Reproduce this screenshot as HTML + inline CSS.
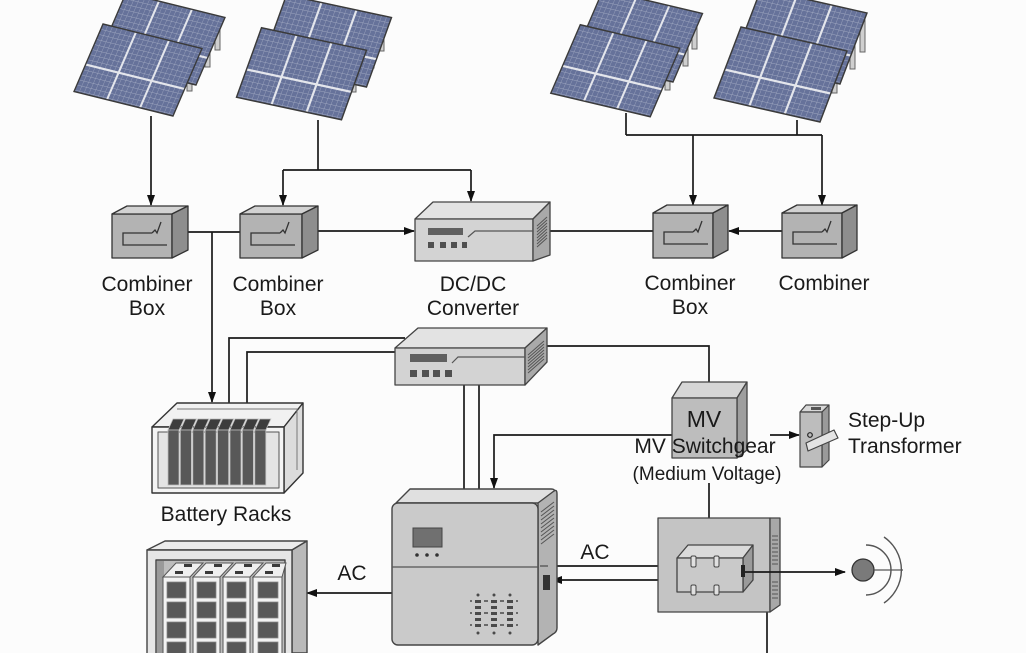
<!DOCTYPE html>
<html>
<head>
<meta charset="utf-8">
<style>
html,body{margin:0;padding:0;background:#fcfcfc;}
svg{display:block;}
text{font-family:"Liberation Sans",sans-serif;fill:#1a1a1a;}
</style>
</head>
<body>
<svg width="1026" height="653" viewBox="0 0 1026 653" xmlns="http://www.w3.org/2000/svg">
<defs>
  <marker id="ah" markerWidth="11" markerHeight="10" refX="10" refY="5" orient="auto" markerUnits="userSpaceOnUse">
    <path d="M0,1 L11,5 L0,9 z" fill="#111"/>
  </marker>
  <pattern id="cells" width="14.2857" height="15" patternUnits="userSpaceOnUse">
    <rect width="14.2857" height="15" fill="#66729a"/>
    <path d="M0 0H14.2857M0 0V15" stroke="#a2aac2" stroke-width="2.2"/>
  </pattern>
  <g id="pnl">
    <rect width="300" height="200" fill="url(#cells)"/>
    <path d="M100 0V200M200 0V200M0 120H300" stroke="#e4e6ec" stroke-width="6" fill="none"/>
    <rect width="300" height="200" fill="none" stroke="#3a3a3a" stroke-width="4"/>
  </g>
</defs>

<rect width="1026" height="653" fill="#fcfcfc"/>

<!-- ===== Solar groups ===== -->
<!-- G1 -->
<g fill="#cfcfcf" stroke="#666" stroke-width="1">
  <rect x="215" y="20" width="5" height="30"/>
  <rect x="205" y="42" width="5" height="25"/>
  <rect x="187" y="66" width="5" height="25"/>
</g>
<g transform="matrix(0.33 0.0817 -0.145 0.3375 126 -7)"><use href="#pnl"/></g>
<g transform="matrix(0.33 0.0817 -0.145 0.3375 103 24)"><use href="#pnl"/></g>

<!-- G2 -->
<g fill="#cfcfcf" stroke="#666" stroke-width="1">
  <rect x="379" y="20" width="5" height="31"/>
  <rect x="369" y="42" width="5" height="26"/>
  <rect x="351" y="68" width="5" height="24"/>
</g>
<g transform="matrix(0.35 0.075 -0.125 0.3475 286.5 -5)"><use href="#pnl"/></g>
<g transform="matrix(0.35 0.075 -0.125 0.3475 261.5 27.75)"><use href="#pnl"/></g>

<!-- G3 -->
<g fill="#cfcfcf" stroke="#666" stroke-width="1">
  <rect x="692" y="18" width="5" height="31"/>
  <rect x="683" y="40" width="5" height="26"/>
  <rect x="665" y="66" width="5" height="24"/>
</g>
<g transform="matrix(0.3317 0.0783 -0.1475 0.3425 603 -10)"><use href="#pnl"/></g>
<g transform="matrix(0.3317 0.0783 -0.1475 0.3425 580.25 24.75)"><use href="#pnl"/></g>

<!-- G4 -->
<g fill="#cfcfcf" stroke="#666" stroke-width="1">
  <rect x="860" y="20" width="5" height="32"/>
  <rect x="850" y="43" width="5" height="26"/>
  <rect x="832" y="69" width="5" height="24"/>
</g>
<g transform="matrix(0.3533 0.08 -0.135 0.355 761 -11)"><use href="#pnl"/></g>
<g transform="matrix(0.3533 0.08 -0.135 0.355 741 27)"><use href="#pnl"/></g>

<!-- ===== Connectors ===== -->
<g stroke="#1a1a1a" stroke-width="1.7" fill="none">
  <path d="M151 116V205" marker-end="url(#ah)"/>
  <path d="M318 120V170"/>
  <path d="M283 170H471"/>
  <path d="M283 170V205" marker-end="url(#ah)"/>
  <path d="M471 170V201" marker-end="url(#ah)"/>
  <path d="M626 113V135"/>
  <path d="M797 120V135"/>
  <path d="M626 135H822"/>
  <path d="M693 135V205" marker-end="url(#ah)"/>
  <path d="M822 135V205" marker-end="url(#ah)"/>
  <path d="M186 232H242"/>
  <path d="M212 232V402" marker-end="url(#ah)"/>
  <path d="M316 231H414" marker-end="url(#ah)"/>
  <path d="M548 231H655"/>
  <path d="M784 231H729" marker-end="url(#ah)"/>
  <path d="M229 404V338H405"/>
  <path d="M247 404V352H396"/>
  <path d="M545 346H709V383"/>
  <path d="M464 383V490"/>
  <path d="M479 383V490"/>
  <path d="M672 435H494V488" marker-end="url(#ah)"/>
  <path d="M770 435H799" marker-end="url(#ah)"/>
  <path d="M709 483V518"/>
  <path d="M548 566H658"/>
  <path d="M675 580H552" marker-end="url(#ah)"/>
  <path d="M392 593H307" marker-end="url(#ah)"/>
  <path d="M767 612V653"/>
</g>

<!-- ===== Combiner boxes ===== -->
<g stroke="#333" stroke-width="1.3" stroke-linejoin="round">
  <rect x="112" y="214" width="60" height="44" fill="#b3b3b3"/>
  <polygon points="112,214 127,206 188,206 172,214" fill="#d2d2d2"/>
  <polygon points="172,214 188,206 188,250 172,258" fill="#8e8e8e"/>
  <rect x="240" y="214" width="62" height="44" fill="#b3b3b3"/>
  <polygon points="240,214 255,206 318,206 302,214" fill="#d2d2d2"/>
  <polygon points="302,214 318,206 318,250 302,258" fill="#8e8e8e"/>
  <rect x="653" y="213" width="60" height="45" fill="#b3b3b3"/>
  <polygon points="653,213 667,205 728,205 713,213" fill="#d2d2d2"/>
  <polygon points="713,213 728,205 728,250 713,258" fill="#8e8e8e"/>
  <rect x="782" y="213" width="60" height="45" fill="#b3b3b3"/>
  <polygon points="782,213 797,205 857,205 842,213" fill="#d2d2d2"/>
  <polygon points="842,213 857,205 857,250 842,258" fill="#8e8e8e"/>
</g>
<g stroke="#333" stroke-width="1.3" fill="none">
  <path d="M152 233H123V245H167M152 233L155 230L157 233L161 222"/>
  <path d="M280 233H251V245H295M280 233L283 230L285 233L289 222"/>
  <path d="M693 232H664V244H708M693 232L696 229L698 232L702 221"/>
  <path d="M822 232H793V244H837M822 232L825 229L827 232L831 221"/>
</g>

<!-- ===== DC/DC converter ===== -->
<g stroke="#444" stroke-width="1.3" stroke-linejoin="round">
  <polygon points="415,219 433,202 550,202 533,219" fill="#e3e3e3"/>
  <rect x="415" y="219" width="118" height="42" fill="#d3d3d3"/>
  <polygon points="533,219 550,202 550,255 533,261" fill="#a9a9a9"/>
</g>
<rect x="428" y="228" width="35" height="7" fill="#606060"/>
<g fill="#505050">
  <rect x="428" y="242" width="6" height="6"/><rect x="440" y="242" width="6" height="6"/>
  <rect x="451" y="242" width="6" height="6"/><rect x="462" y="242" width="5" height="6"/>
</g>
<path d="M468 237L475 231H533" stroke="#555" stroke-width="1.2" fill="none"/>
<g stroke="#555" stroke-width="1">
  <path d="M537 226L547 217M537 229L547 220M537 232L547 223M537 235L547 226M537 238L547 229M537 241L547 232M537 244L547 235M537 247L547 238"/>
</g>

<!-- ===== Second converter ===== -->
<g stroke="#444" stroke-width="1.3" stroke-linejoin="round">
  <polygon points="395,348 418,328 547,328 525,348" fill="#e3e3e3"/>
  <rect x="395" y="348" width="130" height="37" fill="#d3d3d3"/>
  <polygon points="525,348 547,328 547,362 525,385" fill="#a9a9a9"/>
</g>
<rect x="410" y="354" width="37" height="8" fill="#606060"/>
<g fill="#505050">
  <rect x="410" y="370" width="7" height="7"/><rect x="422" y="370" width="7" height="7"/>
  <rect x="433" y="370" width="7" height="7"/><rect x="445" y="370" width="7" height="7"/>
</g>
<path d="M452 363L458 357H525" stroke="#555" stroke-width="1.2" fill="none"/>
<g stroke="#555" stroke-width="1">
  <path d="M528 355L544 341M528 358L544 344M528 361L544 347M528 364L544 350M528 367L544 353M528 370L544 356M528 373L544 359"/>
</g>

<!-- ===== Battery rack 1 ===== -->
<g stroke="#333" stroke-width="1.4" stroke-linejoin="round">
  <polygon points="152,427 177,403 303,403 284,427" fill="#f1f1f1"/>
  <polygon points="284,427 303,403 303,473 284,493" fill="#dcdcdc"/>
  <rect x="152" y="427" width="132" height="66" fill="#f4f4f4"/>
  <rect x="158" y="432" width="121" height="56" fill="#e4e4e4" stroke="#555" stroke-width="1"/>
</g>
<path d="M177 409H297V470" stroke="#777" stroke-width="1" fill="none"/>
<g stroke="#bbb" stroke-width="0.8">
  <g fill="#3d3d3d">
    <polygon points="168,430 173,419 184,419 179,430"/>
    <polygon points="180.4,430 185.4,419 196.4,419 191.4,430"/>
    <polygon points="192.8,430 197.8,419 208.8,419 203.8,430"/>
    <polygon points="205.2,430 210.2,419 221.2,419 216.2,430"/>
    <polygon points="217.6,430 222.6,419 233.6,419 228.6,430"/>
    <polygon points="230,430 235,419 246,419 241,430"/>
    <polygon points="242.4,430 247.4,419 258.4,419 253.4,430"/>
    <polygon points="254.8,430 259.8,419 270.8,419 265.8,430"/>
  </g>
  <g fill="#585858">
    <rect x="168" y="430" width="11" height="55"/>
    <rect x="180.4" y="430" width="11" height="55"/>
    <rect x="192.8" y="430" width="11" height="55"/>
    <rect x="205.2" y="430" width="11" height="55"/>
    <rect x="217.6" y="430" width="11" height="55"/>
    <rect x="230" y="430" width="11" height="55"/>
    <rect x="242.4" y="430" width="11" height="55"/>
    <rect x="254.8" y="430" width="11" height="55"/>
  </g>
</g>

<!-- ===== Battery cabinet 2 ===== -->
<g stroke="#444" stroke-width="1.4" stroke-linejoin="round">
  <polygon points="147,550 165,541 307,541 292,550" fill="#ececec"/>
  <polygon points="292,550 307,541 307,653 292,653" fill="#b9b9b9"/>
  <rect x="147" y="550" width="145" height="110" fill="#e6e6e6"/>
  <rect x="156" y="560" width="129" height="100" fill="#bdbdbd"/>
</g>
<rect x="157" y="561" width="7" height="92" fill="#9a9a9a"/>
<g stroke="#555" stroke-width="1">
  <g fill="#efefef">
    <polygon points="163,577 176,563 203,563 190,577"/>
    <polygon points="193,577 206,563 233,563 220,577"/>
    <polygon points="223,577 236,563 263,563 250,577"/>
    <polygon points="253,577 266,563 286,563 282,577"/>
  </g>
  <g fill="#f2f2f2">
    <rect x="163" y="577" width="27" height="80"/>
    <rect x="193" y="577" width="27" height="80"/>
    <rect x="223" y="577" width="27" height="80"/>
    <rect x="253" y="577" width="29" height="80"/>
  </g>
</g>
<g fill="#3a3a3a">
  <rect x="184" y="564" width="8" height="3"/><rect x="214" y="564" width="8" height="3"/><rect x="244" y="564" width="8" height="3"/><rect x="272" y="564" width="8" height="3"/>
  <rect x="175" y="571" width="8" height="3"/><rect x="205" y="571" width="8" height="3"/><rect x="235" y="571" width="8" height="3"/><rect x="265" y="571" width="8" height="3"/>
</g>
<g fill="#585858" stroke="#888" stroke-width="0.8">
  <rect x="167" y="582" width="19" height="16"/><rect x="167" y="602" width="19" height="16"/><rect x="167" y="622" width="19" height="16"/><rect x="167" y="642" width="19" height="16"/>
  <rect x="197" y="582" width="19" height="16"/><rect x="197" y="602" width="19" height="16"/><rect x="197" y="622" width="19" height="16"/><rect x="197" y="642" width="19" height="16"/>
  <rect x="227" y="582" width="19" height="16"/><rect x="227" y="602" width="19" height="16"/><rect x="227" y="622" width="19" height="16"/><rect x="227" y="642" width="19" height="16"/>
  <rect x="258" y="582" width="20" height="16"/><rect x="258" y="602" width="20" height="16"/><rect x="258" y="622" width="20" height="16"/><rect x="258" y="642" width="20" height="16"/>
</g>

<!-- ===== Inverter ===== -->
<g stroke="#444" stroke-width="1.4" stroke-linejoin="round">
  <path d="M396 503 L410 489 H551 Q556 489 554 493 L538 503 Z" fill="#e0e0e0"/>
  <path d="M538 503 L554 491 Q557 489 557 494 V628 Q557 632 553 634 L538 645 Z" fill="#b3b3b3"/>
  <rect x="392" y="503" width="146" height="142" rx="6" fill="#cacaca"/>
</g>
<path d="M392 567H538" stroke="#555" stroke-width="1.2"/>
<rect x="413" y="528" width="29" height="19" fill="#707070" stroke="#444" stroke-width="1"/>
<g fill="#333">
  <circle cx="417" cy="555" r="1.8"/><circle cx="427" cy="555" r="1.8"/><circle cx="437" cy="555" r="1.8"/>
</g>
<g stroke="#555" stroke-width="1">
  <path d="M541 512L554 502M541 516L554 506M541 520L554 510M541 524L554 514M541 528L554 518M541 532L554 522M541 536L554 526M541 540L554 530M541 544L554 534"/>
</g>
<rect x="543" y="575" width="7" height="15" fill="#333"/>
<path d="M540 566H548" stroke="#333" stroke-width="1"/>
<g fill="#4a4a4a">
  <circle cx="478" cy="595" r="1.5"/><circle cx="494" cy="595" r="1.5"/><circle cx="510" cy="595" r="1.5"/>
  <circle cx="478" cy="633" r="1.5"/><circle cx="494" cy="633" r="1.5"/><circle cx="510" cy="633" r="1.5"/>
  <rect x="475" y="600" width="6" height="3"/><rect x="491" y="600" width="6" height="3"/><rect x="507" y="600" width="6" height="3"/>
  <rect x="475" y="606" width="6" height="3"/><rect x="491" y="606" width="6" height="3"/><rect x="507" y="606" width="6" height="3"/>
  <rect x="475" y="612" width="6" height="3"/><rect x="491" y="612" width="6" height="3"/><rect x="507" y="612" width="6" height="3"/>
  <rect x="475" y="618" width="6" height="3"/><rect x="491" y="618" width="6" height="3"/><rect x="507" y="618" width="6" height="3"/>
  <rect x="475" y="624" width="6" height="3"/><rect x="491" y="624" width="6" height="3"/><rect x="507" y="624" width="6" height="3"/>
  <circle cx="471" cy="601" r="1"/><circle cx="485" cy="601" r="1"/><circle cx="487" cy="601" r="1"/><circle cx="501" cy="601" r="1"/><circle cx="503" cy="601" r="1"/><circle cx="517" cy="601" r="1"/>
  <circle cx="471" cy="613" r="1"/><circle cx="485" cy="613" r="1"/><circle cx="487" cy="613" r="1"/><circle cx="501" cy="613" r="1"/><circle cx="503" cy="613" r="1"/><circle cx="517" cy="613" r="1"/>
  <circle cx="471" cy="625" r="1"/><circle cx="485" cy="625" r="1"/><circle cx="487" cy="625" r="1"/><circle cx="501" cy="625" r="1"/><circle cx="503" cy="625" r="1"/><circle cx="517" cy="625" r="1"/>
</g>

<!-- ===== MV switchgear box ===== -->
<g stroke="#444" stroke-width="1.3" stroke-linejoin="round">
  <polygon points="672,398 682,382 747,382 737,398" fill="#d6d6d6"/>
  <polygon points="737,398 747,382 747,450 737,458" fill="#9e9e9e"/>
  <rect x="672" y="398" width="65" height="60" fill="#bdbdbd"/>
</g>

<!-- ===== Step-up transformer ===== -->
<g stroke="#444" stroke-width="1.2" stroke-linejoin="round">
  <polygon points="800,412 806,405 829,405 822,412" fill="#d8d8d8"/>
  <polygon points="822,412 829,405 829,460 822,467" fill="#9a9a9a"/>
  <rect x="800" y="412" width="22" height="55" fill="#bdbdbd"/>
  <polygon points="806,443 834,430 838,438 808,451" fill="#e4e4e4"/>
</g>
<rect x="811" y="407" width="10" height="3" fill="#555"/>
<circle cx="810" cy="435" r="2.3" fill="none" stroke="#222" stroke-width="1.2"/>

<!-- ===== Lower MV box ===== -->
<g stroke="#444" stroke-width="1.3" stroke-linejoin="round">
  <rect x="658" y="518" width="112" height="94" fill="#c4c4c4"/>
  <polygon points="770,518 780,518 780,605 770,612" fill="#a8a8a8"/>
  <polygon points="677,558 688,545 753,545 743,558" fill="#dadada"/>
  <polygon points="743,558 753,545 753,580 743,592" fill="#9a9a9a"/>
  <rect x="677" y="558" width="66" height="34" fill="#c9c9c9"/>
</g>
<g stroke="#555" stroke-width="1">
  <path d="M772 536H778M772 540H778M772 544H778M772 548H778M772 552H778M772 556H778M772 560H778M772 564H778M772 582H778M772 586H778M772 590H778M772 594H778M772 598H778"/>
</g>
<g fill="#e0e0e0" stroke="#444" stroke-width="1">
  <rect x="691" y="556" width="5" height="11" rx="1.5"/>
  <rect x="714" y="556" width="5" height="11" rx="1.5"/>
  <rect x="691" y="585" width="5" height="10" rx="1.5"/>
  <rect x="714" y="585" width="5" height="10" rx="1.5"/>
</g>
<rect x="741" y="565" width="4" height="12" fill="#222"/>
<path d="M745 572H845" stroke="#1a1a1a" stroke-width="1.7" marker-end="url(#ah)"/>

<!-- ===== Grid symbol ===== -->
<circle cx="863" cy="570" r="11" fill="#7a7a7a" stroke="#333" stroke-width="1.3"/>
<path d="M874 570H903" stroke="#555" stroke-width="1.2"/>
<path d="M866 545 A25 25 0 0 1 866 595" fill="none" stroke="#555" stroke-width="1.4"/>
<path d="M884 537 A40 40 0 0 1 884 603" fill="none" stroke="#555" stroke-width="1.4"/>

<!-- ===== Labels ===== -->
<g font-size="21" text-anchor="middle">
  <text x="147" y="291">Combiner</text>
  <text x="147" y="315">Box</text>
  <text x="278" y="291">Combiner</text>
  <text x="278" y="315">Box</text>
  <text x="473" y="291">DC/DC</text>
  <text x="473" y="315">Converter</text>
  <text x="690" y="290">Combiner</text>
  <text x="690" y="314">Box</text>
  <text x="824" y="290">Combiner</text>
  <text x="226" y="521">Battery Racks</text>
  <text x="352" y="580">AC</text>
  <text x="595" y="559">AC</text>
  <text x="705" y="453">MV Switchgear</text>
</g>
<text x="704" y="427" font-size="23" text-anchor="middle">MV</text>
<text x="707" y="480" font-size="19" text-anchor="middle">(Medium Voltage)</text>
<text x="848" y="427" font-size="21">Step-Up</text>
<text x="848" y="453" font-size="21">Transformer</text>
</svg>
</body>
</html>
